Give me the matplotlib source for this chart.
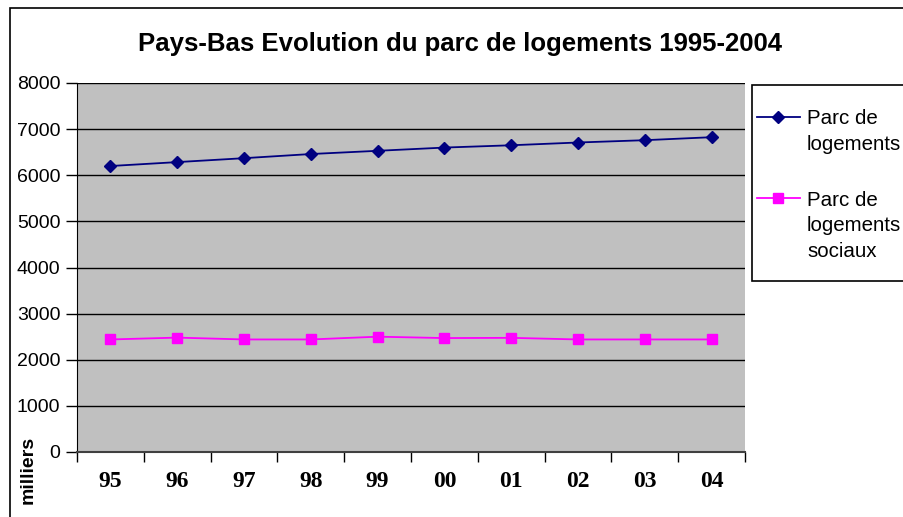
import matplotlib.pyplot as plt
from matplotlib.patches import Rectangle
from matplotlib.lines import Line2D

# data
annees = ['95', '96', '97', '98', '99', '00', '01', '02', '03', '04']
parc = [6200, 6285, 6370, 6460, 6530, 6600, 6650, 6710, 6760, 6825]
parc_sociaux = [2440, 2480, 2440, 2440, 2500, 2470, 2475, 2440, 2440, 2440]
yticks = [0, 1000, 2000, 3000, 4000, 5000, 6000, 7000, 8000]
noms = ['Parc de\nlogements', 'Parc de\nlogements\nsociaux']

clr = ['#000080', '#FF00FF']
mk = ['D', 's']
ms = [6.5, 7]
W, H = 904, 517

fig = plt.figure(figsize=(W/100, H/100), dpi=100)
fig.patch.set_facecolor('white')

# outer chart frame
fig.patches.append(Rectangle((10/W, -0.05), 1.0, 1 - 8/H + 0.05, transform=fig.transFigure,
                             fill=False, edgecolor='black', linewidth=1.2, clip_on=False))

ax = fig.add_axes([77/W, 1 - 452/H, (745-77)/W, (452-83)/H])
ax.set_facecolor('#C0C0C0')

x = list(range(len(annees)))
for n, serie in enumerate([parc, parc_sociaux]):
    ax.plot(x, serie, color=clr[n], marker=mk[n], markersize=ms[n], linewidth=1.3)

ax.set_ylim(0, 8000)
ax.set_yticks(yticks)
ax.yaxis.grid(True, color='black', linewidth=1)
ax.set_axisbelow(True)

ax.set_xlim(-0.5, len(annees) - 0.5)
ax.set_xticks([i - 0.5 for i in range(len(annees) + 1)])
ax.set_xticklabels([])
ax.set_xticks(x, minor=True)
ax.set_xticklabels(annees, minor=True, fontfamily='Liberation Serif', fontsize=17, fontweight='bold')
ax.tick_params(axis='x', which='minor', length=0, pad=14)
ax.tick_params(axis='x', which='major', length=7, width=1, direction='out')
ax.tick_params(axis='y', length=8, width=1, direction='out', pad=4)
for t in ax.get_yticklabels():
    t.set_fontfamily('Liberation Sans')
    t.set_fontsize(14)

for s in ['top', 'right']:
    ax.spines[s].set_visible(False)
ax.spines['bottom'].set_linewidth(1.5)
ax.spines['bottom'].set_color('#404040')
ax.spines['left'].set_color('black')

fig.text(460/W, 1 - 44/H, 'Pays-Bas Evolution du parc de logements 1995-2004',
         ha='center', va='center', fontsize=18.5, fontweight='bold', fontfamily='Liberation Sans')

fig.text(28/W, 1 - 470/H, 'milliers', rotation=90, ha='center', va='center',
         fontsize=14, fontweight='bold', fontfamily='Liberation Sans')

# legend drawn by hand (box runs off the right edge like the original)
fig.patches.append(Rectangle((752/W, 1 - 281/H), 0.3, (281-85)/H, transform=fig.transFigure,
                             facecolor='white', edgecolor='black', linewidth=1.2, clip_on=False))
ytop = [117, 198]
for n, nom in enumerate(noms):
    yy = 1 - ytop[n]/H
    fig.lines.append(Line2D([757/W, 800/W], [yy, yy], transform=fig.transFigure,
                            color=clr[n], linewidth=1.3))
    fig.lines.append(Line2D([778.5/W], [yy], transform=fig.transFigure,
                            color=clr[n], marker=mk[n], markersize=ms[n], linestyle='none'))
    for k, ligne in enumerate(nom.split('\n')):
        fig.text(807/W, 1 - (ytop[n] + 2 + 25.5*k)/H, ligne, ha='left', va='center',
                 fontsize=14.8, fontfamily='Liberation Sans')

plt.savefig('out.png', dpi=100)
plt.close()
